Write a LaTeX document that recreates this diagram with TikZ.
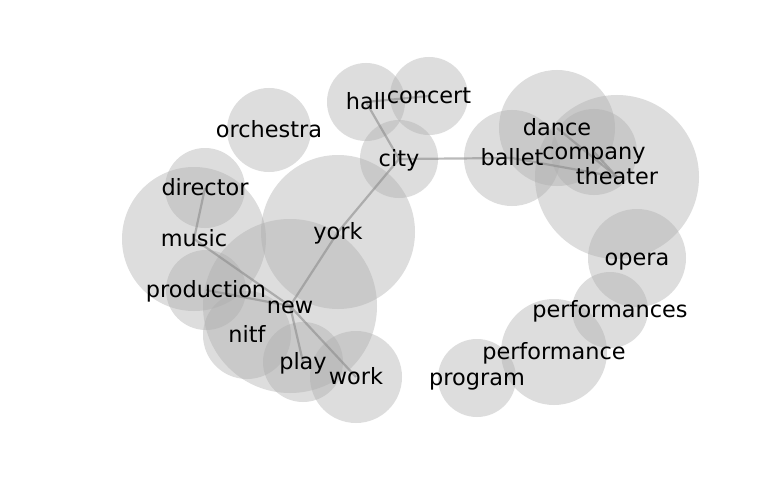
\documentclass[tikz,border=0pt]{standalone}
\usepackage{fontspec}
\setmainfont{DejaVu Sans}
\begin{document}
\begin{tikzpicture}[x=1pt,y=-1pt,
  bub/.style={circle,inner sep=0pt,fill=black!32,fill opacity=0.42,draw=none},
  lbl/.style={inner sep=0pt,text height=20.5pt,text depth=5.6pt,font=\fontsize{22.4}{25}\selectfont},
  edge/.style={draw=black!45,draw opacity=0.6,line width=2.2pt}]
\useasboundingbox (0,0) rectangle (768,500);
% bubbles
\node[bub,minimum size=84pt] (orchestra) at (269,130) {};
\node[bub,minimum size=78pt] (hall) at (366,102) {};
\node[bub,minimum size=78pt] (concert) at (429,96) {};
\node[bub,minimum size=78pt] (city) at (399,159) {};
\node[bub,minimum size=96pt] (ballet) at (512,158) {};
\node[bub,minimum size=116pt] (dance) at (557,128) {};
\node[bub,minimum size=86pt] (company) at (594,152) {};
\node[bub,minimum size=164pt] (theater) at (617,177) {};
\node[bub,minimum size=98pt] (opera) at (637,258) {};
\node[bub,minimum size=76pt] (performances) at (610,310) {};
\node[bub,minimum size=106pt] (performance) at (554,352) {};
\node[bub,minimum size=78pt] (program) at (477,378) {};
\node[bub,minimum size=80pt] (director) at (205,188) {};
\node[bub,minimum size=144pt] (music) at (194,239) {};
\node[bub,minimum size=80pt] (production) at (206,290) {};
\node[bub,minimum size=154pt] (york) at (338,232) {};
\node[bub,minimum size=174pt] (new) at (290,306) {};
\node[bub,minimum size=88pt] (nitf) at (247,335) {};
\node[bub,minimum size=80pt] (play) at (303,362) {};
\node[bub,minimum size=92pt] (work) at (356,377) {};
% edges
\draw[edge] (hall.center) -- (city.center);
\draw[edge] (hall.center) -- (concert.center);
\draw[edge] (city.center) -- (ballet.center);
\draw[edge] (city.center) -- (york.center);
\draw[edge] (york.center) -- (new.center);
\draw[edge] (ballet.center) -- (theater.center);
\draw[edge] (dance.center) -- (theater.center);
\draw[edge] (company.center) -- (theater.center);
\draw[edge] (director.center) -- (music.center);
\draw[edge] (music.center) -- (new.center);
\draw[edge] (production.center) -- (new.center);
\draw[edge] (new.center) -- (play.center);
\draw[edge] (new.center) -- (work.center);
% labels
\foreach \n in {orchestra,hall,concert,city,ballet,dance,company,theater,opera,performances,performance,program,director,music,production,york,new,nitf,play,work}
  \node[lbl] (l-\n) at (\n.center) {\n};
\end{tikzpicture}
\end{document}
